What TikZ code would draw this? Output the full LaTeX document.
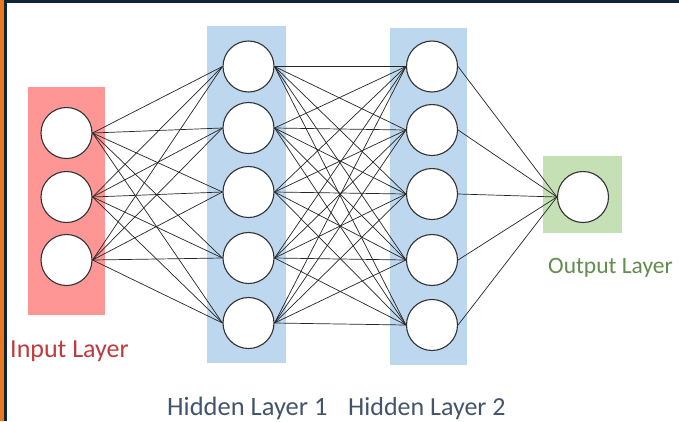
\documentclass[tikz,border=0pt]{standalone}
\usepackage{fontspec}
\setmainfont{Carlito}
\definecolor{inpfill}{HTML}{FF9696}
\definecolor{hidfill}{HTML}{BDD7EE}
\definecolor{outfill}{HTML}{C5E0B4}
\definecolor{inptext}{HTML}{C0393D}
\definecolor{hidtext}{HTML}{44546A}
\definecolor{outtext}{HTML}{638C4F}
\definecolor{frameblue}{HTML}{0F2438}
\definecolor{frameorange}{HTML}{E8771E}
\tikzset{
  neuron/.style={circle, draw=black!80, line width=1.1pt, fill=white,
                 minimum size=51pt, inner sep=0pt},
  link/.style={draw=black!85, line width=0.7pt},
  layerlabel/.style={anchor=base west, inner sep=0pt},
}
\begin{document}
\begin{tikzpicture}[x=1pt,y=-1pt]
  % canvas and frame strips
  \fill[white] (0,0) rectangle (679,421);
  \useasboundingbox (0,0) rectangle (679,421);
  \fill[frameblue] (0,0) rectangle (679,3);
  \fill[frameorange] (0,0) rectangle (4,421);
  \fill[frameblue] (4,3) rectangle (7,421);

  % layer backgrounds
  \fill[inpfill] (28,87) rectangle (105,315);
  \fill[hidfill] (207,26) rectangle (286,363);
  \fill[hidfill] (390,28) rectangle (467,365);
  \fill[outfill] (543,156) rectangle (622,233);

  % input layer
  \node[neuron] (i1) at (66.5,133) {};
  \node[neuron] (i2) at (66.5,197) {};
  \node[neuron] (i3) at (66.5,260) {};

  % hidden layer 1
  \node[neuron] (a1) at (248.5,66.5) {};
  \node[neuron] (a2) at (248.5,128) {};
  \node[neuron] (a3) at (248.5,192) {};
  \node[neuron] (a4) at (248.5,258) {};
  \node[neuron] (a5) at (248.5,323) {};

  % hidden layer 2
  \node[neuron] (b1) at (432,66.5) {};
  \node[neuron] (b2) at (432,130) {};
  \node[neuron] (b3) at (432,194) {};
  \node[neuron] (b4) at (432,260) {};
  \node[neuron] (b5) at (432,325) {};

  % output layer
  \node[neuron] (o1) at (583,197) {};

  % fully connected links
  \foreach \s in {1,2,3}
    \foreach \t in {1,...,5}
      \draw[link] (i\s.east) -- (a\t.west);
  \foreach \s in {1,...,5}
    \foreach \t in {1,...,5}
      \draw[link] (a\s.east) -- (b\t.west);
  \foreach \s in {1,...,5}
    \draw[link] (b\s.east) -- (o1.west);

  % labels
  \node[layerlabel, text=inptext, font=\fontsize{26}{26}\selectfont] (linp) at (10,357) {Input Layer};
  \node[layerlabel, text=hidtext, font=\fontsize{26.5}{26.5}\selectfont] (lh1) at (167,415) {Hidden Layer 1};
  \node[layerlabel, text=hidtext, font=\fontsize{26}{26}\selectfont] (lh2) at (348,415) {Hidden Layer 2};
  \node[layerlabel, text=outtext, font=\fontsize{23.5}{23.5}\selectfont] (lout) at (548,273) {Output Layer};
\end{tikzpicture}
\end{document}
